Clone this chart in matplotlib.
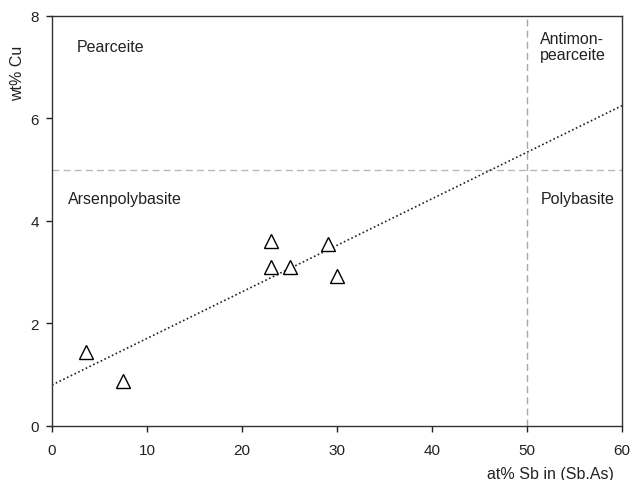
import matplotlib
matplotlib.use("Agg")
import matplotlib.pyplot as plt

plt.rcParams['font.family'] = ['Liberation Sans', 'DejaVu Sans']

sb_at = [3.6, 7.5, 23.0, 23.0, 25.0, 29.0, 30.0]
cu_wt = [1.45, 0.87, 3.60, 3.10, 3.10, 3.55, 2.93]
trend_x = [0, 60]
trend_y = [0.8, 6.25]
x_ticks = [0, 10, 20, 30, 40, 50, 60]
y_ticks = [0, 2, 4, 6, 8]
boundary_sb = 50
boundary_cu = 5

fig = plt.figure(figsize=(6.32, 4.81), dpi=100)
ax = fig.add_axes([0.0823, 0.1123, 0.9019, 0.8524])

ax.axvline(boundary_sb, color='#a8a8a8', lw=1.0, ls=(0, (5, 3)), zorder=1)
ax.axhline(boundary_cu, color='#b8b8b8', lw=1.0, ls=(0, (5, 3)), zorder=1)
ax.plot(trend_x, trend_y, color='#222222', lw=1.2, ls=(0, (1, 1.5)), zorder=2)
ax.plot(sb_at, cu_wt, ls='none', marker='^', ms=9.5, mfc='white', mec='black', mew=1.0, zorder=3)

ax.set_xlim(0, 60)
ax.set_ylim(0, 8)
ax.set_xticks(x_ticks)
ax.set_yticks(y_ticks)
ax.tick_params(direction='out', length=4.5, width=1, labelsize=11, colors='#222222')
ax.tick_params(axis='x', pad=7.5)
ax.tick_params(axis='y', pad=5)
for s in ax.spines.values():
    s.set_linewidth(1.0)
    s.set_color('#333333')

ax.set_ylabel('wt% Cu', fontsize=11.5, color='#222222')
ax.yaxis.set_label_coords(-0.047, 0.863)
ax.set_xlabel('at% Sb in (Sb.As)', fontsize=11.5, color='#222222')
ax.xaxis.set_label_coords(0.874, -0.097)

kw = dict(fontsize=11.5, color='#222222')
ax.text(2.6, 7.41, 'Pearceite', va='center', ha='left', **kw)
ax.text(1.7, 4.43, 'Arsenpolybasite', va='center', ha='left', **kw)
ax.text(51.4, 7.70, 'Antimon-\npearceite', va='top', ha='left', linespacing=1.05, **kw)
ax.text(51.4, 4.43, 'Polybasite', va='center', ha='left', **kw)

fig.savefig('out.png', dpi=100)
